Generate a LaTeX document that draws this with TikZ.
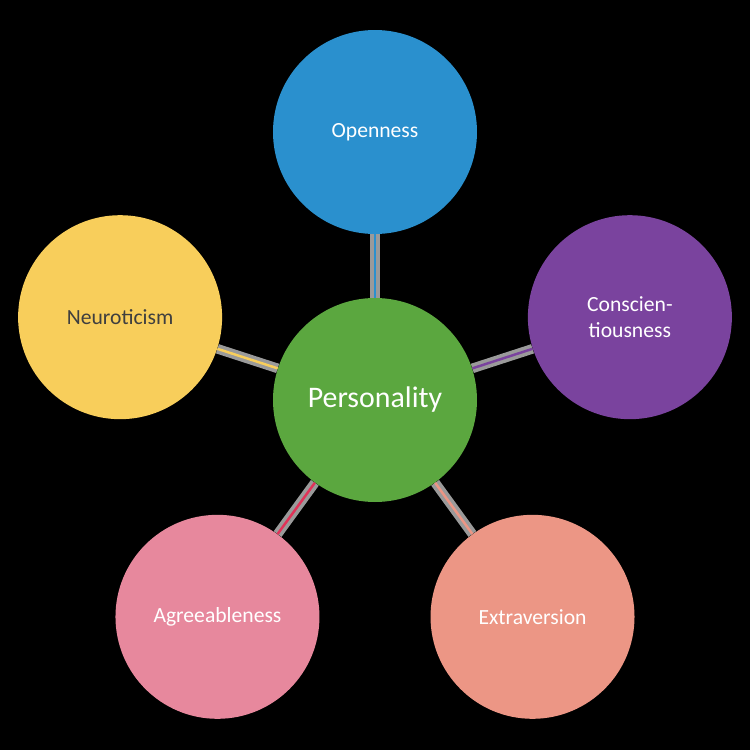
\documentclass[tikz,border=0pt]{standalone}
\usepackage{fontspec}
\setmainfont{Carlito}
\usetikzlibrary{positioning,backgrounds}
\definecolor{bgc}{HTML}{000000}
\definecolor{openfill}{HTML}{2A90CE}
\definecolor{persfill}{HTML}{5BA73F}
\definecolor{consfill}{HTML}{7A439E}
\definecolor{neurfill}{HTML}{F8CE5B}
\definecolor{agrefill}{HTML}{E7889D}
\definecolor{agreline}{HTML}{E03358}
\definecolor{extrfill}{HTML}{EC9685}
\definecolor{shadowc}{HTML}{9A9A9A}
\definecolor{darkfg}{HTML}{3F3F3F}

\begin{document}
\begin{tikzpicture}[
  trait/.style={
    circle,
    fill=#1,
    minimum size=4.08cm,
    inner sep=0pt,
    align=center,
    text=white,
    font=\fontsize{12.3}{14.5}\selectfont
  },
  core/.style={
    circle,
    fill=persfill,
    minimum size=4.08cm,
    inner sep=0pt,
    text=white,
    font=\fontsize{17}{20}\selectfont
  },
  band/.style={
    line width=5.5pt,
    draw=shadowc
  },
  link/.style={
    line width=1.4pt,
    draw=#1
  }
]

% --- Centre ---
\node[core] (pers) at (0,0) {Personality};

% --- Five traits ---
\node[trait=openfill] (open) at (90:5.36) {Openness};
\node[trait=consfill] (cons) at (18:5.36) {Conscien-\\tiousness};
\node[trait=extrfill] (extr) at (-54:5.36) {Extraversion};
\node[trait=agrefill] (agre) at (-126:5.36) {Agreeableness};
\node[trait=neurfill, text=darkfg] (neur) at (162:5.36) {Neuroticism};

% --- Connectors (canvas + shadow bands behind) ---
\begin{scope}[on background layer]
\fill[bgc] (-7.5,-7) rectangle (7.5,8);
\draw[band] (pers) -- (open);
\draw[band] (pers) -- (cons);
\draw[band] (pers) -- (extr);
\draw[band] (pers) -- (agre);
\draw[band] (pers) -- (neur);
\end{scope}
\draw[link=openfill] (pers) -- (open);
\draw[link=consfill] (pers) -- (cons);
\draw[link=extrfill] (pers) -- (extr);
\draw[link=agreline] (pers) -- (agre);
\draw[link=neurfill] (pers) -- (neur);

\end{tikzpicture}
\end{document}
